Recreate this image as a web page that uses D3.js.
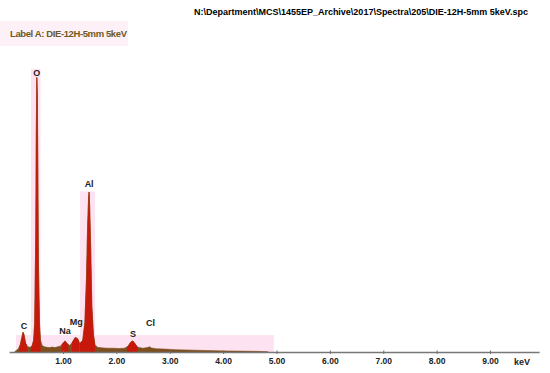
<!DOCTYPE html>
<html>
<head>
<meta charset="utf-8">
<script src="https://cdn.jsdelivr.net/npm/d3@7"></script>
<style>
  body { margin: 0; background: #fff; }
  svg { display: block; }
  .tick text { font-family: "Liberation Sans", Arial, sans-serif; font-weight: bold; font-size: 8.5px; fill: #222; }
</style>
</head>
<body>
<svg id="chart" width="550" height="373"></svg>
<script>
// spectrum (energy in keV, counts in arbitrary units)
var energy = [0.10, 0.16, 0.20, 0.23, 0.25, 0.27, 0.30, 0.34, 0.38, 0.42, 0.45, 0.47, 0.49, 0.50, 0.51, 0.52, 0.53, 0.54, 0.56, 0.58,
  0.61, 0.65, 0.70, 0.75, 0.80, 0.85, 0.90, 0.95, 1.00, 1.04, 1.08, 1.13, 1.18, 1.23, 1.27, 1.32, 1.37, 1.41, 1.44, 1.46,
  1.48, 1.49, 1.50, 1.52, 1.54, 1.57, 1.60, 1.65, 1.75, 1.85, 1.95, 2.05, 2.15, 2.22, 2.27, 2.31, 2.35, 2.40, 2.50, 2.58,
  2.62, 2.66, 2.75, 2.90, 3.10, 3.30, 3.50, 3.70, 3.90, 4.10, 4.30, 4.50, 4.70, 4.80, 4.85];
var counts = [0.2, 1.0, 2.5, 5.0, 6.8, 6.0, 3.0, 1.8, 1.6, 2.0, 4.0, 10, 40, 75, 94, 88, 60, 30, 10, 4,
  2.2, 1.8, 1.6, 1.5, 1.7, 1.5, 1.8, 2.0, 3.0, 3.8, 2.8, 2.2, 3.5, 5.0, 4.6, 3.0, 4.0, 10, 25, 42,
  53, 54.8, 50, 35, 16, 6, 2.5, 1.6, 1.4, 1.3, 1.3, 1.2, 1.3, 2.0, 3.4, 3.8, 2.8, 1.6, 1.3, 1.5,
  1.8, 1.4, 1.1, 1.0, 0.8, 0.7, 0.6, 0.5, 0.4, 0.35, 0.3, 0.25, 0.2, 0.1, 0];

// element labels
var elements = ['C', 'O', 'Na', 'Mg', 'Al', 'S', 'Cl'];
var elementKeV = [0.27, 0.51, 1.04, 1.25, 1.49, 2.31, 2.64];
var elementCounts = [7.8, 94.5, 6.2, 9.2, 56.5, 5.0, 9.0];

// regions of interest (shaded pink / filled red)
var roiStart = [0.18, 0.40, 0.98, 1.17, 1.32, 2.20];
var roiEnd = [0.33, 0.58, 1.10, 1.30, 1.60, 2.40];
var roiTop = [null, 97, null, null, 55, null];

var tickValues = [1, 2, 3, 4, 5, 6, 7, 8, 9];

var svg = d3.select('#chart');

var x = d3.scaleLinear().domain([0, 10]).range([9.6, 543.4]);
var y = d3.scaleLinear().domain([0, 100]).range([352, 60]);

var data = energy.map(function (e, i) { return { e: e, c: counts[i] }; });

// label box top left
svg.append('rect')
  .attr('x', 0).attr('y', 21).attr('width', 128).attr('height', 25)
  .attr('fill', '#fdf1f7');

svg.append('text')
  .attr('x', 10).attr('y', 36.5)
  .attr('font-family', 'Liberation Sans, Arial, sans-serif')
  .attr('font-weight', 'bold')
  .attr('font-size', 9.5)
  .attr('fill', '#6e5a1e')
  .attr('textLength', 117)
  .text('Label A: DIE-12H-5mm 5keV');

svg.append('text')
  .attr('x', 528).attr('y', 15)
  .attr('text-anchor', 'end')
  .attr('font-family', 'Liberation Sans, Arial, sans-serif')
  .attr('font-weight', 'bold')
  .attr('font-size', 9)
  .attr('fill', '#000')
  .attr('textLength', 334)
  .text('N:\\Department\\MCS\\1455EP_Archive\\2017\\Spectra\\205\\DIE-12H-5mm 5keV.spc');

// pink ROI shading
svg.append('rect')
  .attr('x', x(0.12)).attr('y', y(5.8))
  .attr('width', x(4.95) - x(0.12)).attr('height', y(0) - y(5.8))
  .attr('fill', '#fde3f1');

roiStart.forEach(function (s, i) {
  if (roiTop[i] == null) return;
  svg.append('rect')
    .attr('x', x(s)).attr('y', y(roiTop[i]))
    .attr('width', x(roiEnd[i]) - x(s)).attr('height', y(0) - y(roiTop[i]))
    .attr('fill', '#fde3f1');
});

var area = d3.area()
  .x(function (d) { return x(d.e); })
  .y0(y(0))
  .y1(function (d) { return y(d.c); });

// spectrum, brown background continuum
svg.append('path')
  .datum(data)
  .attr('d', area)
  .attr('fill', '#7d4f1e')
  .attr('stroke', '#7d4f1e')
  .attr('stroke-width', 0.6);

// red fill inside ROIs
var defs = svg.append('defs');
var clip = defs.append('clipPath').attr('id', 'roiClip');
roiStart.forEach(function (s, i) {
  clip.append('rect')
    .attr('x', x(s)).attr('y', 0)
    .attr('width', x(roiEnd[i]) - x(s)).attr('height', 373);
});

svg.append('path')
  .datum(data)
  .attr('d', area)
  .attr('clip-path', 'url(#roiClip)')
  .attr('fill', '#c8180b')
  .attr('stroke', '#a8320f')
  .attr('stroke-width', 0.6);

// element labels
svg.selectAll('.elem')
  .data(elements)
  .enter()
  .append('text')
  .attr('class', 'elem')
  .attr('x', function (d, i) { return x(elementKeV[i]); })
  .attr('y', function (d, i) { return y(elementCounts[i]); })
  .attr('text-anchor', 'middle')
  .attr('font-family', 'Liberation Sans, Arial, sans-serif')
  .attr('font-weight', 'bold')
  .attr('font-size', 9)
  .attr('fill', '#222')
  .text(function (d) { return d; });

// axis
var xAxis = d3.axisBottom(x)
  .tickValues(tickValues)
  .tickFormat(d3.format('.2f'))
  .tickSize(3)
  .tickSizeOuter(0);

var axisG = svg.append('g')
  .attr('transform', 'translate(0,' + 350.5 + ')')
  .call(xAxis);
axisG.select('.domain').remove();
axisG.selectAll('.tick line').attr('stroke', '#666').attr('y1', 0).attr('y2', 3.5);
axisG.selectAll('.tick text').attr('dy', '0.9em').attr('y', 6);

svg.append('line')
  .attr('x1', x(0)).attr('x2', x(9.93))
  .attr('y1', 352.5).attr('y2', 352.5)
  .attr('stroke', '#777')
  .attr('stroke-width', 1.4);

svg.append('text')
  .attr('x', 522).attr('y', 365)
  .attr('text-anchor', 'middle')
  .attr('font-family', 'Liberation Sans, Arial, sans-serif')
  .attr('font-weight', 'bold')
  .attr('font-size', 9)
  .attr('fill', '#222')
  .text('keV');
</script>
</body>
</html>
